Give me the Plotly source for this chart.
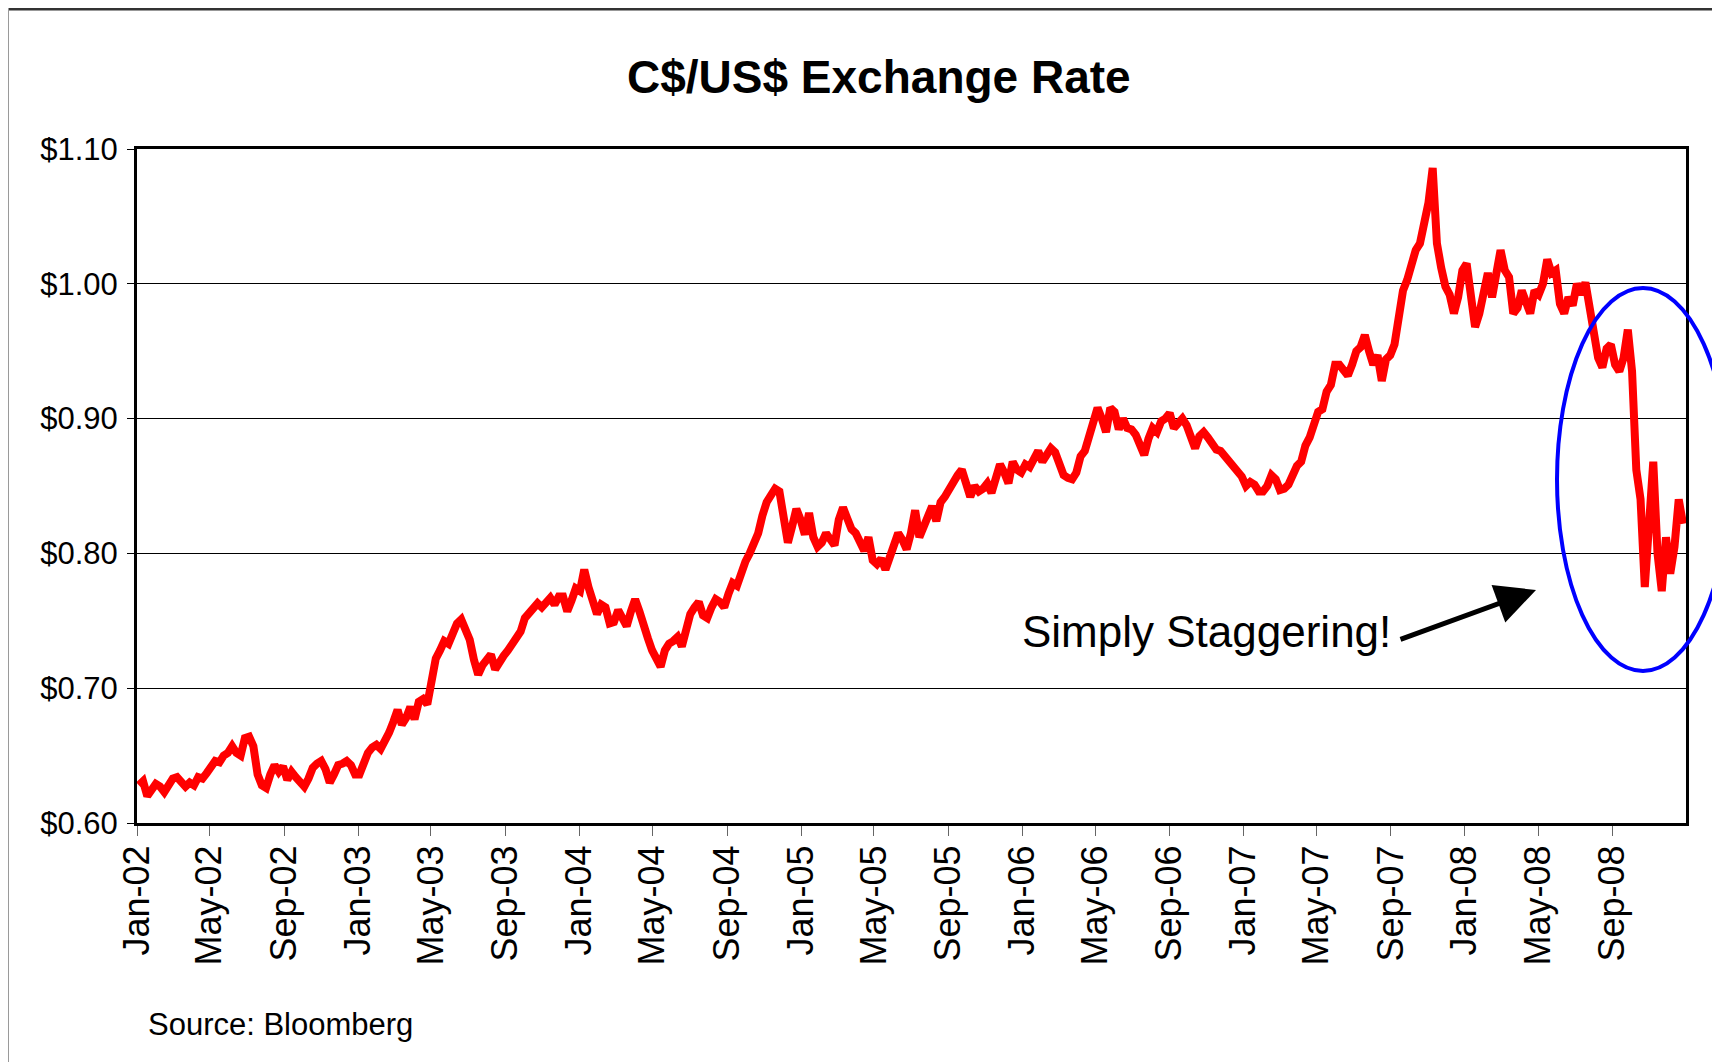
import pandas as pd
import plotly.graph_objects as go

# Weekly (Friday) C$/US$ exchange-rate readings
rate_2002 = [0.628, 0.631, 0.620, 0.626,
             0.629, 0.627, 0.623, 0.628,
             0.633, 0.634, 0.630, 0.627, 0.630,
             0.628, 0.634, 0.633, 0.637,
             0.641, 0.646, 0.645, 0.650, 0.652,
             0.657, 0.652, 0.650, 0.663,
             0.664, 0.657, 0.636, 0.628,
             0.626, 0.636, 0.643, 0.638, 0.642,
             0.632, 0.638, 0.634, 0.630,
             0.627, 0.633, 0.641, 0.644,
             0.646, 0.640, 0.630, 0.636, 0.643,
             0.644, 0.646, 0.643, 0.636]
rate_2003 = [0.636, 0.645, 0.652, 0.656, 0.658,
             0.655, 0.660, 0.667, 0.675,
             0.684, 0.673, 0.678, 0.686,
             0.677, 0.690, 0.692, 0.688,
             0.705, 0.722, 0.728, 0.735, 0.733,
             0.742, 0.748, 0.751, 0.744,
             0.736, 0.721, 0.710, 0.717,
             0.721, 0.725, 0.714, 0.720, 0.724,
             0.728, 0.732, 0.738, 0.742,
             0.752, 0.756, 0.760, 0.763, 0.760,
             0.764, 0.767, 0.762, 0.768,
             0.768, 0.757, 0.765, 0.774]
rate_2004 = [0.772, 0.788, 0.775, 0.766, 0.755,
             0.762, 0.760, 0.748, 0.749,
             0.758, 0.752, 0.746, 0.757,
             0.766, 0.757, 0.745, 0.737, 0.728,
             0.722, 0.716, 0.728, 0.733,
             0.735, 0.738, 0.731, 0.744,
             0.755, 0.760, 0.764, 0.754, 0.752,
             0.760, 0.766, 0.764, 0.760,
             0.770, 0.778, 0.776, 0.787,
             0.794, 0.800, 0.808, 0.815, 0.828,
             0.838, 0.843, 0.848, 0.846,
             0.826, 0.808, 0.820, 0.833, 0.825]
rate_2005 = [0.814, 0.830, 0.812, 0.805,
             0.808, 0.815, 0.810, 0.806,
             0.825, 0.834, 0.826, 0.818,
             0.815, 0.808, 0.802, 0.812, 0.795,
             0.792, 0.796, 0.788, 0.798,
             0.806, 0.815, 0.810, 0.803,
             0.815, 0.832, 0.812, 0.820, 0.826,
             0.835, 0.824, 0.838, 0.842,
             0.848, 0.855, 0.858, 0.862, 0.853,
             0.842, 0.850, 0.846, 0.848,
             0.852, 0.845, 0.858, 0.866,
             0.860, 0.852, 0.868, 0.862, 0.860]
rate_2006 = [0.866, 0.864, 0.869, 0.876,
             0.868, 0.872, 0.878, 0.875,
             0.868, 0.858, 0.856, 0.855, 0.860,
             0.872, 0.876, 0.888, 0.895,
             0.908, 0.900, 0.890, 0.908,
             0.905, 0.892, 0.900, 0.893, 0.892,
             0.888, 0.880, 0.873, 0.885,
             0.893, 0.890, 0.898, 0.900,
             0.904, 0.893, 0.896, 0.900, 0.895,
             0.884, 0.878, 0.887, 0.890,
             0.886, 0.880, 0.877, 0.876,
             0.872, 0.869, 0.866, 0.860, 0.857]
rate_2007 = [0.850, 0.853, 0.851, 0.846,
             0.846, 0.850, 0.858, 0.855,
             0.847, 0.848, 0.851, 0.860, 0.865,
             0.868, 0.880, 0.886, 0.898,
             0.905, 0.907, 0.920, 0.925,
             0.940, 0.940, 0.935, 0.932, 0.940,
             0.950, 0.953, 0.962, 0.950,
             0.940, 0.947, 0.928, 0.944, 0.947,
             0.955, 0.972, 0.995, 1.003,
             1.015, 1.025, 1.030, 1.045,
             1.060, 1.086, 1.030, 1.012, 0.998,
             0.992, 0.978, 0.990, 1.010]
rate_2008 = [1.015, 0.992, 0.968, 0.978,
             0.995, 1.008, 0.990, 1.012, 1.025,
             1.010, 1.005, 0.978, 0.982,
             0.995, 0.988, 0.978, 0.995,
             0.992, 1.000, 1.018, 1.008, 1.010,
             0.985, 0.978, 0.990, 0.984,
             1.000, 0.992, 1.001, 0.982,
             0.970, 0.945, 0.938, 0.952, 0.955,
             0.940, 0.935, 0.945, 0.966,
             0.935, 0.862, 0.840, 0.775, 0.835,
             0.868, 0.800, 0.772, 0.812,
             0.785, 0.805, 0.840, 0.822]

years = [2002, 2003, 2004, 2005, 2006, 2007, 2008]
yearly_rates = [rate_2002, rate_2003, rate_2004, rate_2005, rate_2006, rate_2007, rate_2008]

title_text = "C$/US$ Exchange Rate"
source_text = "Source: Bloomberg"
callout_text = "Simply Staggering!"

dates, values = [], []
for yr, vals in zip(years, yearly_rates):
    d = pd.date_range(f"{yr}-01-01", f"{yr}-12-31", freq="W-FRI")
    assert len(d) == len(vals), (yr, len(d), len(vals))
    dates.extend(d)
    values.extend(vals)

# The page body has an 8 px margin, so the figure is 8 px smaller and all
# reference-pixel positions are shifted by that amount.
OFF = 8
FW, FH = 1720 - OFF, 1062 - OFF
# plot-area edges in reference (page) pixels
L, R, T, B = 137, 1686, 149, 823


def fx(p):
    return (p - L) / (R - L)


def fy(p):
    return (B - p) / (B - T)


FONT = "Liberation Sans, Arial, sans-serif"

fig = go.Figure()
fig.add_trace(go.Scatter(
    x=dates, y=values, mode="lines",
    line=dict(color="#FF0000", width=8),
    hoverinfo="skip", showlegend=False,
))

shapes = [
    # dark frame line at the top and grey line on the left of the slide
    dict(type="rect", xref="paper", yref="paper", x0=fx(OFF), x1=fx(1720), y0=fy(OFF), y1=fy(OFF + 2.5),
         fillcolor="#333333", line=dict(width=0)),
    dict(type="rect", xref="paper", yref="paper", x0=fx(OFF - 1), x1=fx(OFF + 1), y0=fy(OFF), y1=fy(1062),
         fillcolor="#9a9a9a", line=dict(width=0)),
    # blue ellipse around the late-2008 collapse
    dict(type="circle", xref="paper", yref="paper", x0=fx(1557), x1=fx(1729), y0=fy(288), y1=fy(671),
         line=dict(color="#0000FF", width=4)),
]

annotations = [
    dict(xref="paper", yref="paper", x=fx(878.5), y=fy(77), xanchor="center", yanchor="middle",
         text="<b>" + title_text + "</b>", showarrow=False,
         font=dict(family=FONT, size=46, color="black")),
    dict(xref="paper", yref="paper", x=fx(146), y=fy(1024), xanchor="left", yanchor="middle",
         text=source_text, showarrow=False,
         font=dict(family=FONT, size=31, color="black")),
    dict(xref="paper", yref="paper", x=fx(1020), y=fy(631), xanchor="left", yanchor="middle",
         text=callout_text, showarrow=False,
         font=dict(family=FONT, size=44, color="black")),
    dict(xref="paper", yref="paper", x=fx(1536), y=fy(590), ax=-137, ay=50,
         text="", showarrow=True, arrowhead=2, arrowsize=1.6, arrowwidth=5,
         arrowcolor="black", standoff=0, startstandoff=0),
]

fig.update_layout(
    width=FW, height=FH,
    margin=dict(l=L - OFF, r=FW - (R - OFF), t=T - OFF, b=FH - (B - OFF), pad=0),
    paper_bgcolor="white", plot_bgcolor="white",
    shapes=shapes, annotations=annotations,
    showlegend=False,
    xaxis=dict(
        type="date", range=["2002-01-01", "2008-12-31"],
        tick0="2002-01-01", dtick="M4", tickformat="%b-%y", tickangle=-90,
        ticks="outside", ticklen=10, tickwidth=1.2, tickcolor="#666666",
        ticklabelstandoff=-5,
        showgrid=False, zeroline=False, automargin=False,
        showline=True, linecolor="black", linewidth=3, mirror=True,
        tickfont=dict(family=FONT, size=36, color="black"),
    ),
    yaxis=dict(
        range=[0.60, 1.10], tick0=0.6, dtick=0.1, tickprefix="$", tickformat=".2f",
        ticks="outside", ticklen=7, tickwidth=1.2, tickcolor="black",
        ticklabelstandoff=3,
        showgrid=True, gridcolor="black", gridwidth=1.2, zeroline=False, automargin=False,
        showline=True, linecolor="black", linewidth=3, mirror=True,
        tickfont=dict(family=FONT, size=31, color="black"),
    ),
)

fig.write_html("out.html")
